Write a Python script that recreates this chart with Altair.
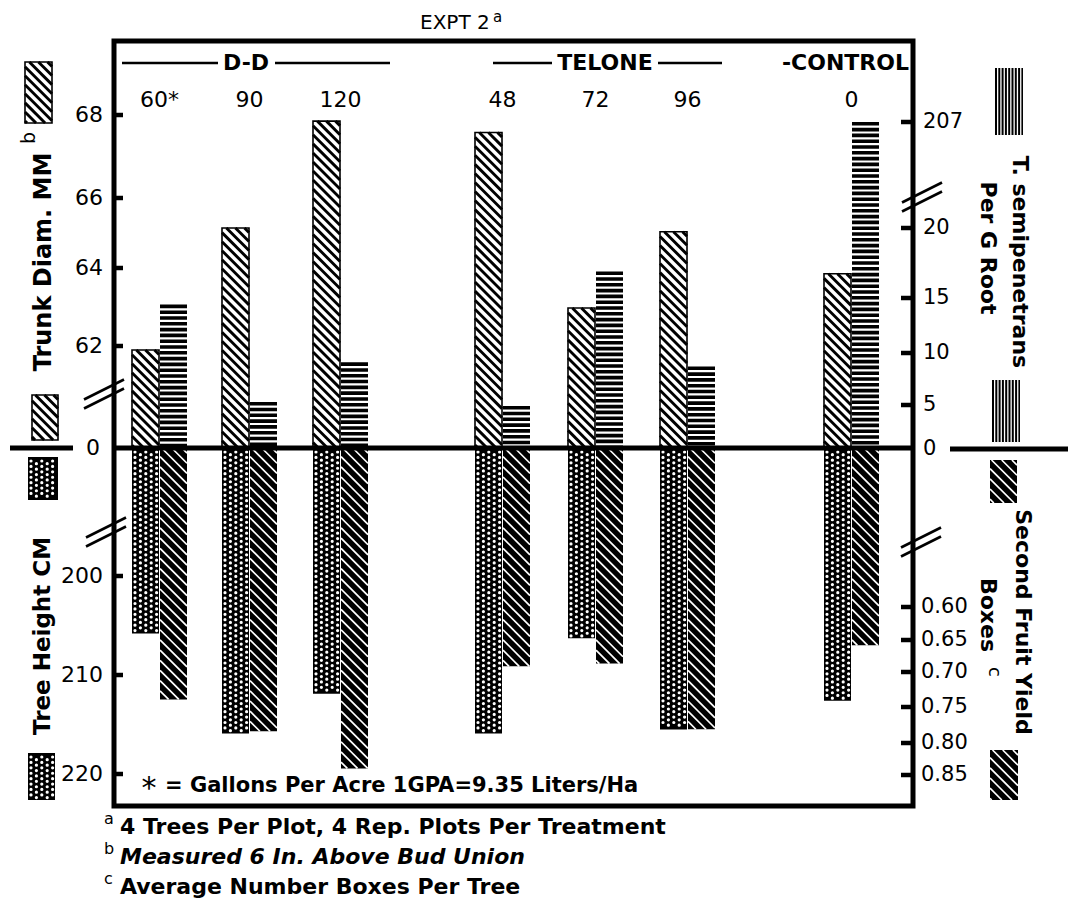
import altair as alt
import numpy as np
import pandas as pd

# ---------------- values ----------------
rate_labels = ["60*", "90", "120", "48", "72", "96", "0"]
trunk_diam_mm = [61.9, 65.1, 67.9, 67.6, 63.0, 65.0, 63.9]
nematodes_per_g_root = [14.4, 5.3, 9.1, 4.9, 16.9, 8.7, 207.0]
tree_height_cm = [205.8, 215.9, 211.9, 215.9, 206.3, 215.5, 212.6]
fruit_yield_boxes = [0.738, 0.785, 0.840, 0.689, 0.685, 0.782, 0.658]

trunk_ticks = [62, 64, 66, 68]
height_ticks = [200, 210, 220]
nema_ticks = [0, 5, 10, 15, 20, 207]
yield_ticks = [0.60, 0.65, 0.70, 0.75, 0.80, 0.85]
yield_tick_labels = ["0.60", "0.65", "0.70", "0.75", "0.80", "0.85"]

footnotes = [
    ("a", "4 Trees Per Plot, 4 Rep. Plots Per Treatment", "normal"),
    ("b", "Measured 6 In. Above Bud Union", "italic"),
    ("c", "Average Number Boxes Per Tree", "normal"),
]

# ---------------- layout (page pixels) ----------------
W, H = 1062, 896
OX, OY = 8, 8
FL, FR, FT, FB = 114, 913, 41, 806
ZERO_Y = 448
trunk_tick_y = [346, 268, 198, 115]
height_tick_y = [576, 675, 774]
nema_tick_y = [449, 405, 353, 298, 228, 122]
yield_tick_y = [607, 640, 672, 707, 743, 775]
pair_left = [132, 222, 313, 475, 568, 660, 824]
BW = 27
FONT = "DejaVu Sans"

XS = alt.Scale(domain=[OX, OX + W], nice=False, zero=False)
YS = alt.Scale(domain=[OY + H, OY], nice=False, zero=False)


def X(f):
    return alt.X(f"{f}:Q", scale=XS, axis=None)


def Y(f):
    return alt.Y(f"{f}:Q", scale=YS, axis=None)


def lin(vals, ticks, pos):
    a, b = np.polyfit(ticks, pos, 1)
    return [a * v + b for v in vals]


trunk_y = lin(trunk_diam_mm, trunk_ticks, trunk_tick_y)
height_y = lin(tree_height_cm, height_ticks, height_tick_y)
yield_y = lin(fruit_yield_boxes, yield_ticks, yield_tick_y)
nema_y = list(np.interp(nematodes_per_g_root, nema_ticks, nema_tick_y))

layers = []


def add_rects(rects, fill, stroke=None, sw=0, fill_opacity=1.0):
    df = pd.DataFrame(rects, columns=["x", "y", "x2", "y2"])
    kw = dict(fill=fill, fillOpacity=fill_opacity)
    if stroke:
        kw.update(stroke=stroke, strokeWidth=sw)
    else:
        kw.update(strokeWidth=0)
    layers.append(alt.Chart(df).mark_rect(**kw).encode(
        x=X("x"), y=Y("y"), x2="x2:Q", y2="y2:Q"))


def add_rules(segs, width, color="black", dash=None, cap="butt", offset=None):
    df = pd.DataFrame(segs, columns=["x", "y", "x2", "y2"])
    kw = dict(strokeWidth=width, color=color, strokeCap=cap)
    if dash:
        kw["strokeDash"] = dash
    if offset:
        kw["strokeDashOffset"] = offset
    layers.append(alt.Chart(df).mark_rule(**kw).encode(
        x=X("x"), y=Y("y"), x2="x2:Q", y2="y2:Q"))


def add_text(rows, size, align="center", angle=0, weight="normal", style="normal"):
    df = pd.DataFrame(rows, columns=["x", "y", "t"])
    layers.append(alt.Chart(df).mark_text(
        align=align, baseline="middle", angle=angle, fontSize=size, font=FONT,
        fontWeight=weight, fontStyle=style, color="black").encode(
        x=X("x"), y=Y("y"), text="t:N"))


def diag(x0, y0, x1, y1, step):
    """'\\' hatch segments inside rect (page coords)."""
    segs = []
    cstep = step * np.sqrt(2)
    c = (y0 - x1) + cstep / 2
    while c < (y1 - x0):
        xa = max(x0, y0 - c)
        xb = min(x1, y1 - c)
        if xb - xa > 0.6:
            segs.append((xa, xa + c, xb, xb + c))
        c += cstep
    return segs


# swatches next to the axis titles
trunk_sw = [(25, 62, 52, 123), (32, 395, 58, 440)]
tree_sw = [(28, 457, 58, 500), (28, 753, 55, 800)]
nema_sw = [(995, 68, 1023, 135), (992, 380, 1020, 442)]
yield_sw = [(990, 460, 1017, 503), (990, 750, 1018, 800)]

# ---- trunk diameter bars (white with black '\' hatch) ----
trunk_rects = [(l, ty, l + BW, ZERO_Y) for l, ty in zip(pair_left, trunk_y)] + trunk_sw
add_rects(trunk_rects, "white")
hatch = []
for r in trunk_rects:
    hatch += diag(*r, 6.4)
add_rules(hatch, 2.9)
add_rects(trunk_rects, "white", stroke="black", sw=1.6, fill_opacity=0)

# ---- nematode bars (horizontal black stripes) ----
nema_rules = [(l + BW + 1 + BW / 2, ny, l + BW + 1 + BW / 2, ZERO_Y)
              for l, ny in zip(pair_left, nema_y)]
add_rules(nema_rules, BW, dash=[3.6, 2.2])
layers.append(alt.Chart(pd.DataFrame(
    [(x0, (y0 + y1) / 2, x1, (y0 + y1) / 2, y1 - y0) for x0, y0, x1, y1 in nema_sw],
    columns=["x", "y", "x2", "y2", "h"])).mark_rule(strokeDash=[2.0, 1.3], color="black").encode(
    x=X("x"), y=Y("y"), x2="x2:Q", y2="y2:Q",
    strokeWidth=alt.StrokeWidth("h:Q", scale=None)))

# ---- tree height bars (black with white dot lattice) ----
tree_rects = [(l, ZERO_Y, l + BW, hy) for l, hy in zip(pair_left, height_y)] + tree_sw
add_rects(tree_rects, "black")
even, odd = [], []
for x0, y0, x1, y1 in tree_rects:
    k = 0
    x = x0 + 3.0
    while x < x1 - 1.5:
        (even if k % 2 == 0 else odd).append((x, y0 + 4, x, y1 - 2))
        x += 5.4
        k += 1
add_rules(even, 3.2, color="white", dash=[0.01, 5.4], cap="round")
add_rules(odd, 3.2, color="white", dash=[0.01, 5.4], cap="round", offset=2.7)

# ---- fruit yield bars (black with white '\' lines) ----
yield_rects = [(l + BW + 1, ZERO_Y, l + 2 * BW + 1, yy) for l, yy in zip(pair_left, yield_y)] + yield_sw
add_rects(yield_rects, "black")
wl = []
for r in yield_rects:
    wl += diag(*r, 7.2)
add_rules(wl, 1.7, color="white")

# ---- zero line, frame, ticks, breaks ----
add_rules([(10, ZERO_Y, 73, ZERO_Y), (FL, ZERO_Y, FR, ZERO_Y), (950, ZERO_Y + 1, 1068, ZERO_Y + 1)], 5)
add_rects([(FL, FT, FR, FB)], "white", stroke="black", sw=5, fill_opacity=0)
ticks = [(FL, y, FL + 9, y) for y in trunk_tick_y + height_tick_y] + \
        [(FR - 12, y, FR, y) for y in nema_tick_y[1:] + yield_tick_y]
add_rules(ticks, 4.5)
brk = []
for cx, cy in [(104, 394), (106, 532), (922, 197), (921, 542)]:
    for d in (-4.5, 4.5):
        brk.append((cx - 20, cy + 10 + d, cx + 20, cy - 10 + d))
add_rules(brk, 2.6)

# ---- axis tick labels ----
add_text([(103, y, str(v)) for v, y in zip(trunk_ticks, trunk_tick_y)] +
         [(103, y, str(v)) for v, y in zip(height_ticks, height_tick_y)] +
         [(100, ZERO_Y, "0")], 22, align="right")
add_text([(923, y, str(v)) for v, y in zip(nema_ticks, nema_tick_y)] +
         [(921, y, s) for s, y in zip(yield_tick_labels, yield_tick_y)], 21, align="left")

# ---- treatment headers ----
centers = [l + BW + 0.5 for l in pair_left]
add_text([(c, 100, r) for c, r in zip(centers, rate_labels)], 22)
add_text([(246, 63, "D-D"), (605, 63, "TELONE")], 22, weight="bold")
add_text([(909, 63, "-CONTROL")], 22, align="right", weight="bold")
add_rules([(122, 63, 218, 63), (275, 63, 390, 63), (493, 63, 552, 63), (658, 63, 722, 63)], 2.4)

# ---- axis titles ----
add_text([(44, 262, "Trunk Diam. MM")], 24, angle=270, weight="bold")
add_text([(29, 138, "b")], 19, angle=270)
add_text([(43, 636, "Tree Height  CM")], 23, angle=270, weight="bold")
add_text([(1020, 262, "T. semipenetrans"), (988, 248, "Per G Root")], 22, angle=90, weight="bold")
add_text([(1023, 622, "Second Fruit Yield"), (988, 615, "Boxes")], 22, angle=90, weight="bold")
add_text([(994, 672, "c")], 18, angle=90)

# ---- title and notes ----
add_text([(420, 23, "EXPT 2")], 20, align="left")
add_text([(493, 17, "a")], 15, align="left")
add_text([(149, 789, "*")], 30)
add_text([(165, 786, "= Gallons Per Acre   1GPA=9.35 Liters/Ha")], 21, align="left", weight="bold")
for i, (mark, text, style) in enumerate(footnotes):
    y = 827 + 30 * i
    add_text([(104, y - 8, mark)], 16, align="left")
    add_text([(120, y, text)], 22, align="left", weight="bold", style=style)

chart = alt.layer(*layers).properties(
    width=W, height=H, padding=0,
    autosize=alt.AutoSizeParams(type="none"),
).configure_view(stroke=None)

chart.save("out.html", embed_options={"renderer": "svg", "actions": False})
